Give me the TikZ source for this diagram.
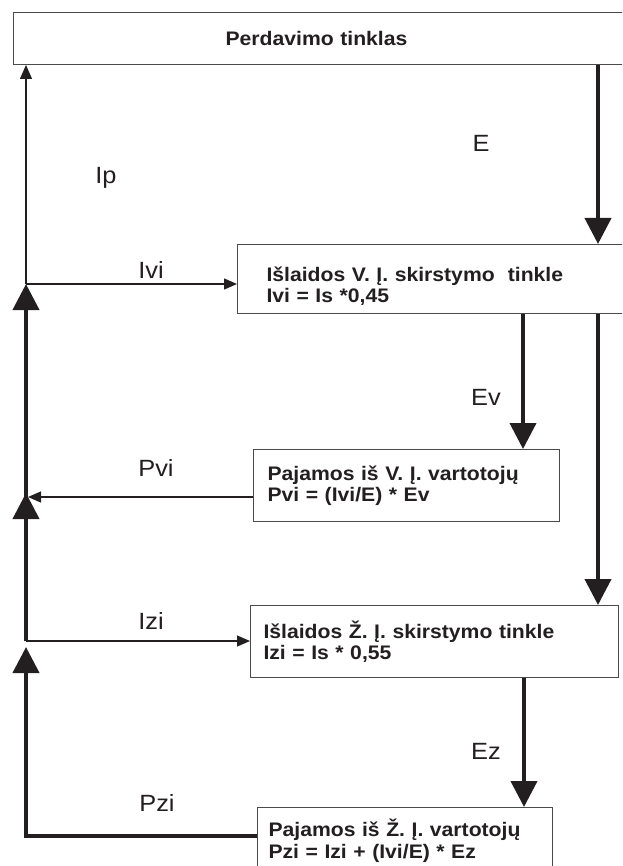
\documentclass[tikz,border=0pt]{standalone}
\usepackage{fontspec}
\setmainfont{Liberation Sans}[FakeStretch=1.08]
\usetikzlibrary{arrows.meta}

\definecolor{ink}{HTML}{231F20}
\definecolor{frame}{HTML}{4A4A4A}

\begin{document}
\begin{tikzpicture}[x=1pt,y=-1pt,
  box/.style={draw=frame, line width=1pt, anchor=north west, align=left,
    font=\fontsize{19.6}{21.5}\selectfont\bfseries, text=ink, inner ysep=0pt},
  lbl/.style={font=\fontsize{23.5}{25}\selectfont, text=ink, inner sep=0pt},
  flow/.style={draw=ink, line width=4pt, -{Triangle[length=26pt,width=26pt]}},
  thinarrow/.style={draw=ink, line width=1.3pt, -{Triangle[length=13pt,width=11pt]}}]

\useasboundingbox (0,0) rectangle (622,866);
\clip (0,0) rectangle (622,866);

% blocks
\node[box, minimum width=622pt, minimum height=52pt, align=center, inner xsep=0pt,
  text width=622pt] (tn) at (13,12) {\hspace*{-16pt}Perdavimo tinklas};
\node[box, minimum height=69pt, inner xsep=29pt, text width=360pt] (isv) at (237,244)
  {\rule{0pt}{29pt}Išlaidos V. Į. skirstymo~ tinkle\\Ivi = Is *0,45};
\node[box, minimum height=72pt, inner xsep=14pt, text width=278pt] (pav) at (253,449)
  {Pajamos iš V. Į. vartotojų\\Pvi = (Ivi/E) * Ev};
\node[box, minimum height=72pt, inner xsep=13pt, text width=342pt] (isz) at (250,605)
  {Išlaidos Ž. Į. skirstymo tinkle\\Izi = Is * 0,55};
\node[box, minimum height=66pt, inner xsep=11pt, text width=273pt] (paz) at (257,807)
  {Pajamos iš Ž. Į. vartotojų\\Pzi = Izi + (Ivi/E) * Ez};

% column positions and junctions
\coordinate (xE) at (598,0);
\coordinate (xEv) at (523,0);
\coordinate (xEz) at (524,0);
\coordinate (jv) at (26,284);
\coordinate (jp) at (26,497);
\coordinate (jpend) at (28,497);
\coordinate (jz) at (26,641);
\coordinate (bz) at (26,836);
\coordinate (tp) at (26,493);
\coordinate (tz) at (26,647);

% energy flows
\draw[flow] (tn.south -| xE) -- (isv.north -| xE);
\draw[flow] (isv.south -| xEv) -- (pav.north -| xEv);
\draw[flow] (isv.south -| xE) -- (isz.north -| xE);
\draw[flow] (isz.south -| xEz) -- (paz.north -| xEz);

% money flows on the left bus
\draw[flow] (bz -| paz.west) -- (bz) -- (tz);
\draw[flow] (jz) -- (tp);
\draw[flow] (jp) -- (jv);
\draw[thinarrow, -{Triangle[length=14pt,width=12pt]}] (jv) -- (jv |- tn.south);
\draw[thinarrow] (jv) -- (jv -| isv.west);
\draw[thinarrow] (jpend -| pav.west) -- (jpend);
\draw[thinarrow] (jz) -- (jz -| isz.west);

% labels
\node[lbl] (lIp) at (106,178) {Ip};
\node[lbl] (lE) at (481,143) {E};
\node[lbl] (lIvi) at (151,270) {Ivi};
\node[lbl] (lEv) at (486,397) {Ev};
\node[lbl] (lPvi) at (156,468) {Pvi};
\node[lbl] (lIzi) at (151,621) {Izi};
\node[lbl] (lEz) at (486,751) {Ez};
\node[lbl] (lPzi) at (157,803) {Pzi};
\end{tikzpicture}
\end{document}
